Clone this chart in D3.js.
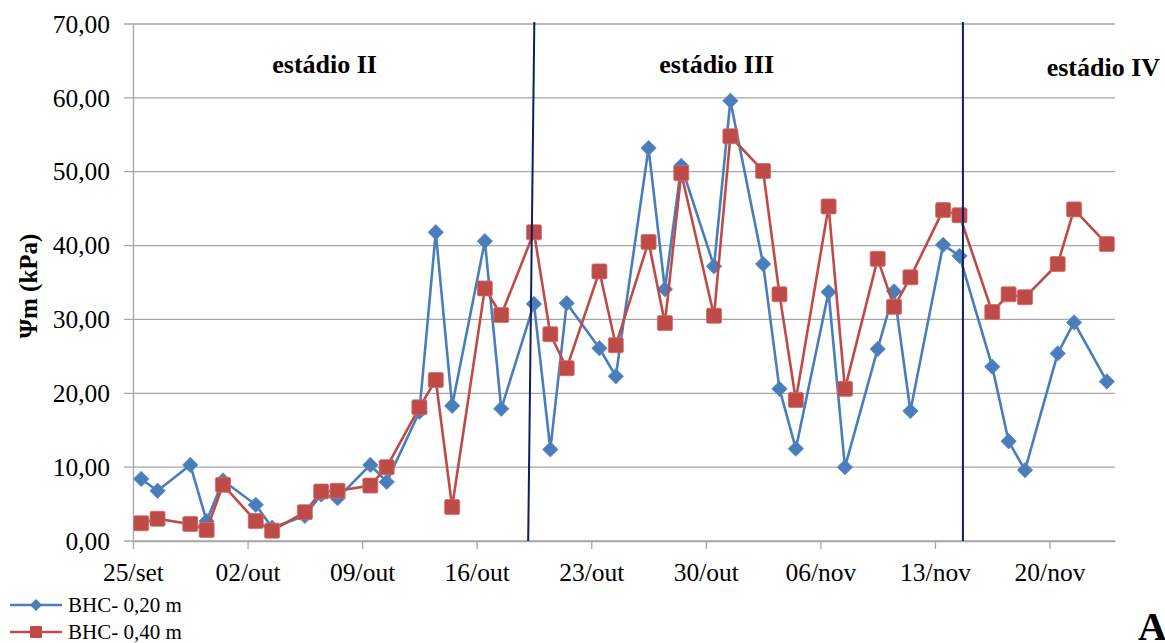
<!DOCTYPE html>
<html>
<head>
<meta charset="utf-8">
<script src="https://cdn.jsdelivr.net/npm/d3@7"></script>
<style>
  body { margin: 0; background: #fff; }
  svg { display: block; font-family: "Liberation Serif", "Times New Roman", serif; }
</style>
</head>
<body>
<svg id="chart" width="1165" height="643"></svg>
<script>
// Data
const DATES = [
  '2010-09-25', '2010-09-26', '2010-09-28', '2010-09-29', '2010-09-30',
  '2010-10-02', '2010-10-03', '2010-10-05', '2010-10-06', '2010-10-07',
  '2010-10-09', '2010-10-10', '2010-10-12', '2010-10-13', '2010-10-14',
  '2010-10-16', '2010-10-17', '2010-10-19', '2010-10-20', '2010-10-21',
  '2010-10-23', '2010-10-24', '2010-10-26', '2010-10-27', '2010-10-28',
  '2010-10-30', '2010-10-31', '2010-11-02', '2010-11-03', '2010-11-04',
  '2010-11-06', '2010-11-07', '2010-11-09', '2010-11-10', '2010-11-11',
  '2010-11-13', '2010-11-14', '2010-11-16', '2010-11-17', '2010-11-18',
  '2010-11-20', '2010-11-21', '2010-11-23',
];
const BHC_020 = [
  8.4, 6.8, 10.3, 2.7, 8.2, 4.9, 1.8, 3.4, 6.3, 5.8,
  10.3, 8.0, 17.5, 41.8, 18.3, 40.6, 17.9, 32.1, 12.4, 32.2,
  26.1, 22.3, 53.2, 34.1, 50.8, 37.2, 59.6, 37.5, 20.6, 12.5,
  33.7, 10.0, 26.0, 33.8, 17.6, 40.1, 38.6, 23.6, 13.5, 9.6,
  25.4, 29.6, 21.6,
];
const BHC_040 = [
  2.4, 3.0, 2.3, 1.5, 7.6, 2.7, 1.4, 3.9, 6.7, 6.8,
  7.5, 10.0, 18.1, 21.8, 4.6, 34.2, 30.6, 41.8, 28.0, 23.4,
  36.5, 26.5, 40.5, 29.5, 49.8, 30.5, 54.8, 50.1, 33.4, 19.1,
  45.3, 20.6, 38.2, 31.7, 35.7, 44.8, 44.1, 31.0, 33.4, 33.0,
  37.5, 44.9, 40.2,
];
const SERIES_NAMES = ['BHC- 0,20 m', 'BHC- 0,40 m'];
const Y_TICKS = [0, 10, 20, 30, 40, 50, 60, 70];
const X_DOMAIN = ['2010-09-25', '2010-11-24'];
const STAGES = ['estádio II', 'estádio III', 'estádio IV'];
const STAGE_CENTERS = ['2010-10-06T17:00', '2010-10-30T16:00', '2010-11-23T07:00'];
// divider lines: [top, bottom] in time
const DIVIDERS = [
  ['2010-10-19T12:30', '2010-10-19T03:30'],
  ['2010-11-14T17:00', '2010-11-14T17:00'],
];

// Layout
const M = { left: 133, top: 24, right: 1115, bottom: 541 };
const FONT = '"Liberation Serif", "Times New Roman", serif';
const BLUE = '#4a7ebb';
const RED = '#be4b48';
const NAVY = '#0c1f63';
const GRID = '#a6a6a6';

const parse = d3.timeParse('%Y-%m-%dT%H:%M');
const day = (s) => parse(s.length > 10 ? s : s + 'T00:00');
const mid = (s) => d3.timeHour.offset(day(s), 12);

const svg = d3.select('#chart').attr('font-family', FONT);

const x = d3.scaleTime(X_DOMAIN.map(day), [M.left, M.right]);
const y = d3.scaleLinear([0, 70], [M.bottom, M.top]);

// Gridlines
svg.append('g')
  .selectAll('line')
  .data(Y_TICKS)
  .join('line')
  .attr('x1', M.left - 9)
  .attr('x2', M.right)
  .attr('y1', (d) => y(d))
  .attr('y2', (d) => y(d))
  .attr('stroke', GRID)
  .attr('stroke-width', 1.3);

// Y axis
const yAxis = d3.axisLeft(y)
  .tickValues(Y_TICKS)
  .tickFormat((d) => d3.format('.2f')(d).replace('.', ','))
  .tickSize(0)
  .tickPadding(23);
const gy = svg.append('g').attr('transform', `translate(${M.left},0)`).call(yAxis);
gy.attr('font-family', FONT);
gy.select('.domain').attr('stroke', GRID).attr('stroke-width', 1.3);
gy.selectAll('text').attr('font-size', 25.5).attr('fill', '#000');

// X axis
const MONTHS = ['jan', 'fev', 'mar', 'abr', 'mai', 'jun', 'jul', 'ago', 'set', 'out', 'nov', 'dez'];
const xAxis = d3.axisBottom(x)
  .tickValues(d3.timeDay.range(day(X_DOMAIN[0]), day(X_DOMAIN[1]), 7))
  .tickFormat((d) => d3.timeFormat('%d')(d) + '/' + MONTHS[d.getMonth()])
  .tickSize(8)
  .tickSizeOuter(0)
  .tickPadding(14);
const gx = svg.append('g').attr('transform', `translate(0,${M.bottom})`).call(xAxis);
gx.attr('font-family', FONT);
gx.select('.domain').attr('stroke', GRID).attr('stroke-width', 1.3);
gx.selectAll('line').attr('stroke', GRID).attr('stroke-width', 1.3);
gx.selectAll('text').attr('font-size', 25.5).attr('fill', '#000');

// Series
const series = [
  { name: SERIES_NAMES[0], values: BHC_020, color: BLUE, marker: 'diamond' },
  { name: SERIES_NAMES[1], values: BHC_040, color: RED, marker: 'square' },
];

const line = d3.line().x((d) => x(d.t)).y((d) => y(d.v));
const diamond = d3.symbol(d3.symbolSquare, 118);

series.forEach((s) => {
  const pts = DATES.map((t, i) => ({ t: mid(t), v: s.values[i] }));
  const g = svg.append('g');
  g.append('path')
    .datum(pts)
    .attr('d', line)
    .attr('fill', 'none')
    .attr('stroke', s.color)
    .attr('stroke-width', 2.6)
    .attr('stroke-linejoin', 'round');
  if (s.marker === 'diamond') {
    g.selectAll('path.m')
      .data(pts)
      .join('path')
      .attr('class', 'm')
      .attr('d', diamond)
      .attr('transform', (d) => `translate(${x(d.t)},${y(d.v)}) rotate(45)`)
      .attr('fill', s.color)
      .attr('stroke', '#5b8cc6')
      .attr('stroke-width', 0.8);
  } else {
    g.selectAll('rect.m')
      .data(pts)
      .join('rect')
      .attr('class', 'm')
      .attr('x', (d) => x(d.t) - 7.5)
      .attr('y', (d) => y(d.v) - 7.5)
      .attr('width', 15)
      .attr('height', 15)
      .attr('rx', 1.5)
      .attr('fill', s.color)
      .attr('stroke', '#cd6e6b')
      .attr('stroke-width', 0.8);
  }
});

// Stage divider lines
svg.append('g')
  .selectAll('line')
  .data(DIVIDERS)
  .join('line')
  .attr('x1', (d) => x(day(d[0])))
  .attr('x2', (d) => x(day(d[1])))
  .attr('y1', M.top - 2)
  .attr('y2', M.bottom)
  .attr('stroke', NAVY)
  .attr('stroke-width', 2);

// Stage labels
svg.append('g')
  .selectAll('text')
  .data(STAGES)
  .join('text')
  .attr('x', (d, i) => x(day(STAGE_CENTERS[i])))
  .attr('y', (d, i) => (i === 2 ? 76 : 73))
  .attr('text-anchor', 'middle')
  .attr('font-family', FONT)
  .attr('font-weight', 'bold')
  .attr('font-size', 26)
  .text((d) => d);

// Y axis title
svg.append('text')
  .attr('transform', 'translate(37,286) rotate(-90)')
  .attr('text-anchor', 'middle')
  .attr('font-family', FONT)
  .attr('font-weight', 'bold')
  .attr('font-size', 25)
  .text('Ψm (kPa)');

// Legend
const lg = svg.append('g');
series.forEach((s, i) => {
  const ly = 605 + i * 27;
  lg.append('line')
    .attr('x1', 10).attr('x2', 62)
    .attr('y1', ly).attr('y2', ly)
    .attr('stroke', s.color).attr('stroke-width', 2.6);
  if (s.marker === 'diamond') {
    lg.append('path')
      .attr('d', d3.symbol(d3.symbolSquare, 72)())
      .attr('transform', `translate(36,${ly}) rotate(45)`)
      .attr('fill', s.color);
  } else {
    lg.append('rect')
      .attr('x', 30).attr('y', ly - 6)
      .attr('width', 12).attr('height', 12)
      .attr('rx', 1)
      .attr('fill', s.color);
  }
  lg.append('text')
    .attr('x', 68)
    .attr('y', ly + 7)
    .attr('font-family', FONT)
    .attr('font-size', 21)
    .text(s.name);
});

// Panel letter
svg.append('text')
  .attr('x', 1138)
  .attr('y', 640)
  .attr('font-family', FONT)
  .attr('font-weight', 'bold')
  .attr('font-size', 40)
  .text('A');
</script>
</body>
</html>
